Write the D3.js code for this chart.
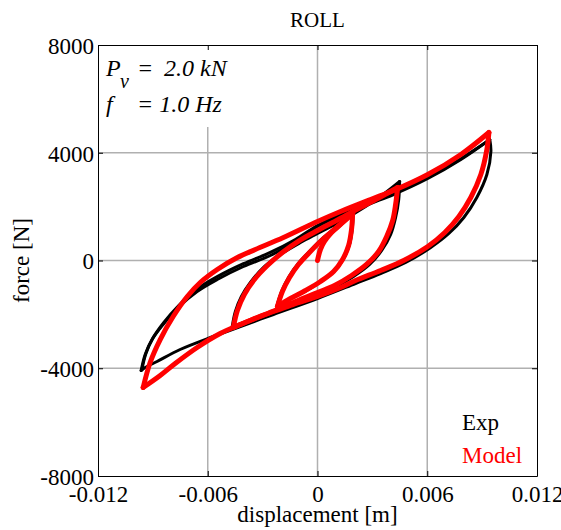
<!DOCTYPE html>
<html>
<head>
<meta charset="utf-8">
<script src="https://cdn.jsdelivr.net/npm/d3@7"></script>
<style>
  body { margin: 0; background: #fff; }
  text { font-family: "Liberation Serif", "Times New Roman", serif; }
</style>
</head>
<body>
<svg id="chart"></svg>
<script>
// tick values
const xTicks = [-0.012, -0.006, 0, 0.006, 0.012];
const yTicks = [-8000, -4000, 0, 4000, 8000];
const xGrid = [-0.006, 0, 0.006];
const yGrid = [-4000, 0, 4000];

// experimental loops [displacement m, force N]
const expBigUp = [[-0.00964,-4083],[-0.00942,-3489],[-0.00904,-2933],[-0.00844,-2376],[-0.00762,-1745],[-0.00658,-1151],[-0.00548,-705],[-0.00405,-223],[-0.00258,186],[-0.00121,705],[0,1262],[0.00126,1670],[0.00290,2116],[0.00416,2450],[0.00603,3044],[0.00784,3749],[0.00942,4491]];
const expBigUp2 = [[-0.00960,-4050],[-0.00938,-3450],[-0.00900,-2880],[-0.00840,-2300],[-0.00760,-1680],[-0.00658,-1060],[-0.00548,-600],[-0.00405,-120],[-0.00258,300],[-0.00121,780],[0,1300],[0.00126,1700],[0.00290,2140],[0.00416,2480],[0.00603,3080],[0.00784,3780],[0.00940,4470]];
const expBigDown = [[0.00942,4491],[0.00948,4046],[0.00926,3192],[0.00871,2339],[0.00800,1596],[0.00718,1002],[0.00619,483],[0.00482,-74],[0.00345,-483],[0.00208,-854],[0,-1411],[-0.00241,-2004],[-0.00466,-2561],[-0.00570,-2821],[-0.00751,-3304],[-0.00877,-3749],[-0.00942,-3972],[-0.00964,-4083]];
const expMidUp = [[-0.00466,-2450],[-0.00449,-1893],[-0.00416,-1336],[-0.00367,-817],[-0.00296,-260],[-0.00203,223],[-0.00093,668],[0,1002],[0.00126,1448],[0.00263,2004],[0.00373,2524],[0.00449,2933]];
const expMidDown = [[0.00449,2933],[0.00444,2264],[0.00427,1596],[0.00400,965],[0.00351,371],[0.00285,-148],[0.00197,-594],[0.00099,-965],[0,-1262],[-0.00121,-1559],[-0.00247,-1930],[-0.00367,-2227],[-0.00466,-2450]];
const expSmallUp = [[-0.00222,-1690],[-0.00195,-1130],[-0.00156,-600],[-0.00106,-120],[-0.00046,320],[0.00025,800],[0.00104,1250],[0.00195,1780]];
const expSmallDown = [[0.00195,1780],[0.00190,1170],[0.00174,570],[0.00140,40],[0.00090,-420],[0.00016,-800],[-0.00066,-1140],[-0.00150,-1430],[-0.00222,-1690]];

// model loops
const modelStart = [[0,0],[0.00016,408],[0.00038,705],[0.00077,1039],[0.00132,1373],[0.00192,1745]];
const modelSmallUp = [[-0.00219,-1708],[-0.00192,-1151],[-0.00153,-631],[-0.00104,-148],[-0.00044,297],[0.00027,780],[0.00104,1225],[0.00192,1745]];
const modelSmallDown = [[0.00192,1745],[0.00186,1151],[0.00170,557],[0.00137,37],[0.00088,-408],[0.00016,-780],[-0.00066,-1114],[-0.00148,-1411],[-0.00219,-1708]];
const modelMidUp = [[-0.00460,-2487],[-0.00438,-1856],[-0.00400,-1262],[-0.00345,-705],[-0.00274,-186],[-0.00192,297],[-0.00099,742],[0,1114],[0.00104,1485],[0.00214,1893],[0.00329,2301],[0.00438,2710]];
const modelMidDown = [[0.00438,2710],[0.00427,2079],[0.00411,1485],[0.00378,891],[0.00334,334],[0.00268,-148],[0.00186,-557],[0.00093,-928],[0,-1188],[-0.00121,-1522],[-0.00247,-1893],[-0.00356,-2190],[-0.00460,-2487]];
const modelBigUp = [[-0.00953,-4714],[-0.00915,-3786],[-0.00860,-2933],[-0.00789,-2079],[-0.00712,-1336],[-0.00641,-817],[-0.00548,-334],[-0.00438,111],[-0.00340,408],[-0.00186,854],[0,1448],[0.00126,1819],[0.00290,2264],[0.00416,2598],[0.00603,3192],[0.00784,3935],[0.00937,4751]];
const modelBigDown = [[0.00937,4751],[0.00926,4120],[0.00893,3192],[0.00838,2339],[0.00773,1633],[0.00696,1039],[0.00603,520],[0.00471,0],[0.00345,-371],[0.00208,-742],[0.00126,-1002],[0,-1336],[-0.00148,-1670],[-0.00241,-1893],[-0.00422,-2376],[-0.00532,-2710],[-0.00658,-3229],[-0.00778,-3823],[-0.00860,-4269],[-0.00953,-4714]];

const expSeries = [expBigUp, expBigUp2, expBigDown, expMidUp, expMidDown, expSmallUp, expSmallDown];
const modelSeries = [modelStart, modelSmallUp, modelSmallDown, modelMidUp, modelMidDown, modelBigUp, modelBigDown];

const width = 561, height = 530;
const margin = {top: 45, right: 24, bottom: 54, left: 98};
const serif = '"Liberation Serif", "Times New Roman", serif';

const svg = d3.select('#chart').attr('width', width).attr('height', height);

const x = d3.scaleLinear().domain([-0.012, 0.012]).range([margin.left, width - margin.right]);
const y = d3.scaleLinear().domain([-8000, 8000]).range([height - margin.bottom, margin.top]);

// grid
svg.append('g').selectAll('line').data(xGrid).join('line')
    .attr('x1', d => x(d)).attr('x2', d => x(d))
    .attr('y1', y(-8000)).attr('y2', y(8000))
    .attr('stroke', '#b0b0b0').attr('stroke-width', 1.5);
svg.append('g').selectAll('line').data(yGrid).join('line')
    .attr('x1', x(-0.012)).attr('x2', x(0.012))
    .attr('y1', d => y(d)).attr('y2', d => y(d))
    .attr('stroke', '#b0b0b0').attr('stroke-width', 1.5);

// annotation box hides part of the grid
svg.append('rect')
    .attr('x', x(-0.012) + 1).attr('y', y(8000) + 1)
    .attr('width', 146).attr('height', 81)
    .attr('fill', '#fff');

const line = d3.line()
    .x(d => x(d[0]))
    .y(d => y(d[1]))
    .curve(d3.curveCatmullRom.alpha(0.5));

svg.append('g').selectAll('path').data(expSeries).join('path')
    .attr('d', line)
    .attr('fill', 'none')
    .attr('stroke', '#000')
    .attr('stroke-width', 3)
    .attr('stroke-linejoin', 'round')
    .attr('stroke-linecap', 'round');

svg.append('g').selectAll('path').data(modelSeries).join('path')
    .attr('d', line)
    .attr('fill', 'none')
    .attr('stroke', '#ff0000')
    .attr('stroke-width', 5)
    .attr('stroke-linejoin', 'round')
    .attr('stroke-linecap', 'round');

// axes box with inward ticks
const fontSize = 23;
const fmtX = d => d === 0 ? '0' : (d < 0 ? '-' : '') + d3.format('.3f')(Math.abs(d));
const fmtY = d => (d < 0 ? '-' : '') + Math.abs(d);
const xAxisB = d3.axisBottom(x).tickValues(xTicks).tickSizeInner(-5).tickSizeOuter(0).tickFormat(fmtX);
const xAxisT = d3.axisTop(x).tickValues(xTicks).tickSizeInner(-5).tickSizeOuter(0).tickFormat('');
const yAxisL = d3.axisLeft(y).tickValues(yTicks).tickSizeInner(-5).tickSizeOuter(0).tickFormat(fmtY);
const yAxisR = d3.axisRight(y).tickValues(yTicks).tickSizeInner(-5).tickSizeOuter(0).tickFormat('');

const gxB = svg.append('g').attr('transform', `translate(0,${y(-8000)})`).call(xAxisB)
    .attr('font-family', serif).attr('font-size', fontSize);
gxB.selectAll('text').attr('dy', null).attr('y', 26).attr('fill', '#000');
svg.append('g').attr('transform', `translate(0,${y(8000)})`).call(xAxisT);
const gyL = svg.append('g').attr('transform', `translate(${x(-0.012)},0)`).call(yAxisL)
    .attr('font-family', serif).attr('font-size', fontSize);
gyL.selectAll('text').attr('x', -4).attr('dy', '0.36em').attr('fill', '#000');
svg.append('g').attr('transform', `translate(${x(0.012)},0)`).call(yAxisR);
svg.selectAll('.domain').attr('stroke', '#000');
svg.selectAll('.tick line').attr('stroke', '#000');

// titles
svg.append('text').attr('x', x(0)).attr('y', 27).attr('text-anchor', 'middle')
    .attr('font-family', serif).style('font-size', '21px').text('ROLL');
svg.append('text').attr('x', x(0)).attr('y', 522).attr('text-anchor', 'middle')
    .attr('font-family', serif).style('font-size', '23px').text('displacement [m]');
svg.append('text').attr('transform', `translate(29,${y(0)}) rotate(-90)`).attr('text-anchor', 'middle')
    .attr('font-family', serif).style('font-size', '23px').text('force [N]');

// parameters
const ann = svg.append('g').attr('font-family', serif).style('font-style', 'italic')
    .style('font-size', '24px');
ann.append('text').attr('x', 106).attr('y', 76).text('P');
ann.append('text').attr('x', 120).attr('y', 88).style('font-size', '20px').text('v');
ann.append('text').attr('x', 137).attr('y', 76).text('=');
ann.append('text').attr('x', 164).attr('y', 76).text('2.0 kN');
ann.append('text').attr('x', 106).attr('y', 112).text('f');
ann.append('text').attr('x', 137).attr('y', 112).text('= 1.0 Hz');

// legend
svg.append('text').attr('x', 462).attr('y', 430).attr('font-family', serif).style('font-size', '23px').attr('fill', '#000').text('Exp');
svg.append('text').attr('x', 462).attr('y', 463).attr('font-family', serif).style('font-size', '23px').attr('fill', '#ff0000').text('Model');
</script>
</body>
</html>
